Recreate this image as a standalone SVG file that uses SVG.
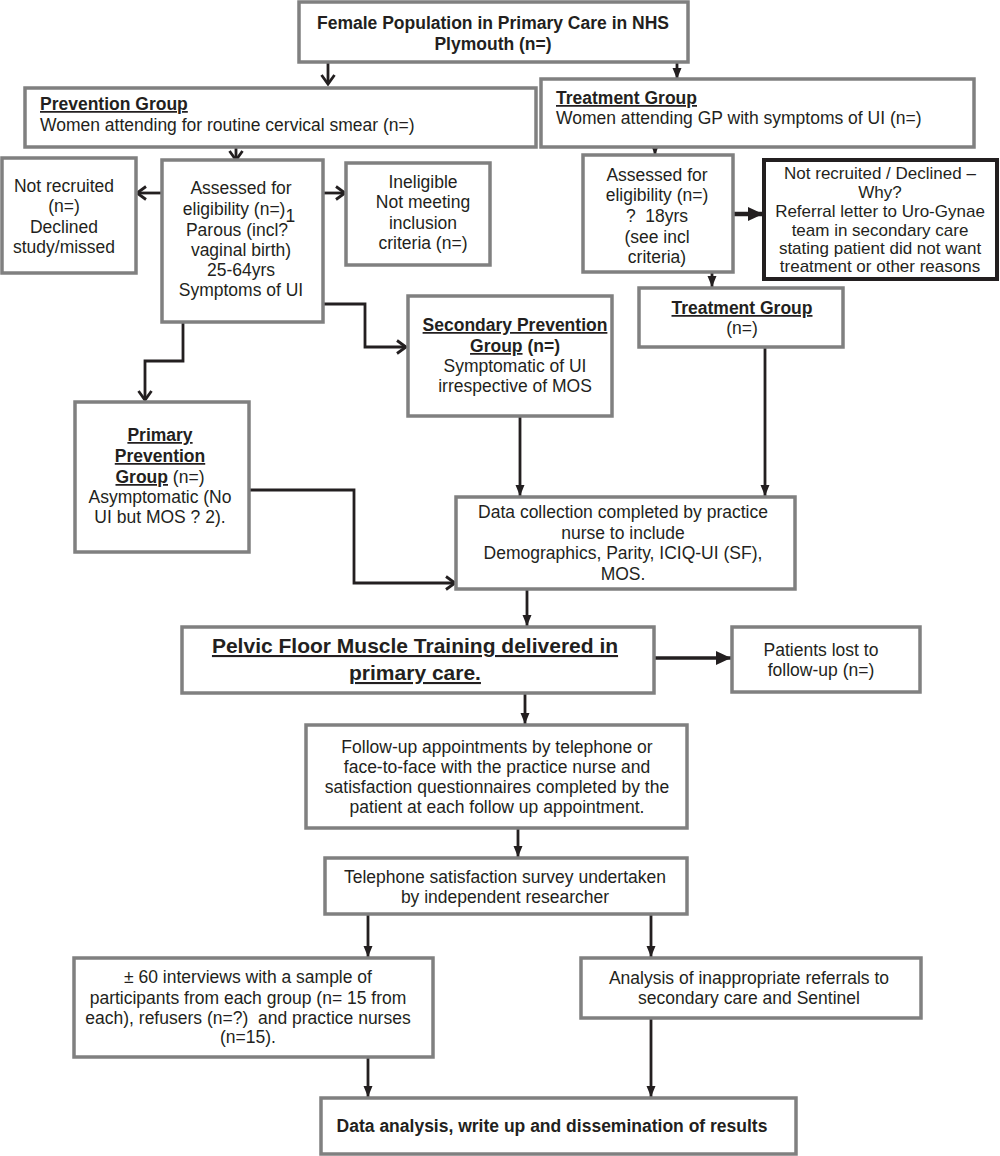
<svg xmlns="http://www.w3.org/2000/svg" width="1000" height="1156" viewBox="0 0 1000 1156">
<style>
text{font-family:"Liberation Sans",Arial,sans-serif;font-size:17.5px;fill:#231f20;text-anchor:middle;white-space:pre}
.l{text-anchor:start}
.b{font-weight:bold}
.u{text-decoration:underline}
.s{font-size:17px}
.box{fill:#fff;stroke:#808080;stroke-width:3.5}
.dark{fill:#fff;stroke:#231f20;stroke-width:4}
.c{fill:none;stroke:#231f20;stroke-width:2.8}
.ch{marker-end:url(#chev)}
.tr{marker-end:url(#tri)}
</style>
<defs>
<marker id="chev" markerWidth="14" markerHeight="16" refX="11" refY="8" orient="auto" markerUnits="userSpaceOnUse"><path d="M2,1.5 L11,8 L2,14.5" fill="none" stroke="#231f20" stroke-width="2.8"/></marker>
<marker id="tri" markerWidth="12" markerHeight="10" refX="11" refY="5" orient="auto" markerUnits="userSpaceOnUse"><path d="M0,0.5 L11,5 L0,9.5 z" fill="#231f20"/></marker>
<marker id="big" markerWidth="16" markerHeight="16" refX="15" refY="8" orient="auto" markerUnits="userSpaceOnUse"><path d="M0,1 L15,8 L0,15 z" fill="#231f20"/></marker>
</defs>
<rect width="1000" height="1156" fill="#fff"/>
<g id="connectors">
<path class="c ch" d="M328,62 V84"/>
<path class="c tr" d="M677,62 V79"/>
<path class="c ch" d="M236,147 V160"/>
<path class="c ch" d="M162,193 H137"/>
<path class="c ch" d="M323,193 H345"/>
<path class="c ch" d="M323,304 H365 V347 H406"/>
<path class="c ch" d="M183,322 V361 H145 V400"/>
<path class="c ch" d="M249,490 H354 V583 H455"/>
<path class="c tr" d="M655,147 V155"/>
<path class="c" d="M733,214 H763" style="stroke-width:4.5;marker-end:url(#big)"/>
<path class="c tr" d="M712,272 V287"/>
<path class="c tr" d="M520,416 V496"/>
<path class="c tr" d="M765,347 V496"/>
<path class="c tr" d="M527,589 V626"/>
<path class="c" d="M654,658 H731" style="stroke-width:3.5;marker-end:url(#big)"/>
<path class="c tr" d="M525,693 V724"/>
<path class="c tr" d="M518,828 V857"/>
<path class="c tr" d="M368,914 V957"/>
<path class="c tr" d="M651,914 V957"/>
<path class="c tr" d="M368,1057 V1097"/>
<path class="c tr" d="M651,1018 V1097"/>
</g>
<g id="top">
<rect class="box" x="299" y="2" width="389" height="60"/>
<text class="b" x="493" y="29">Female Population in Primary Care in NHS</text>
<text class="b" x="493" y="50">Plymouth (n=)</text>
</g>
<g id="prevention">
<rect class="box" x="25" y="88" width="511" height="59"/>
<text class="l b u" x="40" y="110">Prevention Group</text>
<text class="l" x="40" y="131">Women attending for routine cervical smear (n=)</text>
</g>
<g id="treatment">
<rect class="box" x="541" y="79" width="433" height="68"/>
<text class="l b u" x="556" y="104">Treatment Group</text>
<text class="l" x="556" y="124">Women attending GP with symptoms of UI (n=)</text>
</g>
<g id="notrecruited">
<rect class="box" x="2" y="158" width="134" height="115"/>
<text x="64" y="192">Not recruited</text>
<text x="64" y="212">(n=)</text>
<text x="64" y="233">Declined</text>
<text x="64" y="253">study/missed</text>
</g>
<g id="assessed">
<rect class="box" x="162" y="160" width="161" height="162"/>
<text x="241" y="194">Assessed for</text>
<text x="239" y="215">eligibility (n=)<tspan dy="7">1</tspan></text>
<text x="237" y="236">Parous (incl?</text>
<text x="241" y="256">vaginal birth)</text>
<text x="241" y="276">25-64yrs</text>
<text x="241" y="296">Symptoms of UI</text>
</g>
<g id="ineligible">
<rect class="box" x="346" y="163" width="144" height="102"/>
<text x="423" y="188">Ineligible</text>
<text x="423" y="208">Not meeting</text>
<text x="423" y="229">inclusion</text>
<text x="423" y="249">criteria (n=)</text>
</g>
<g id="tassessed">
<rect class="box" x="583" y="155" width="150" height="117"/>
<text x="657" y="181">Assessed for</text>
<text x="657" y="201">eligibility (n=)</text>
<text x="657" y="222">?  18yrs</text>
<text x="657" y="243">(see incl</text>
<text x="657" y="263">criteria)</text>
</g>
<g id="declined">
<rect class="dark" x="764" y="160" width="233" height="119"/>
<text class="s" x="880" y="179">Not recruited / Declined –</text>
<text class="s" x="880" y="198">Why?</text>
<text class="s" x="880" y="217">Referral letter to Uro-Gynae</text>
<text class="s" x="880" y="236">team in secondary care</text>
<text class="s" x="880" y="254">stating patient did not want</text>
<text class="s" x="880" y="272">treatment or other reasons</text>
</g>
<g id="treatmentgroup">
<rect class="box" x="639" y="288" width="204" height="59"/>
<text class="b u" x="742" y="314">Treatment Group</text>
<text x="742" y="334">(n=)</text>
</g>
<g id="secondary">
<rect class="box" x="408" y="296" width="204" height="120"/>
<text class="b u" x="515" y="331">Secondary Prevention</text>
<text class="b" x="515" y="352"><tspan class="u">Group</tspan> (n=)</text>
<text x="515" y="372">Symptomatic of UI</text>
<text x="515" y="392">irrespective of MOS</text>
</g>
<g id="primary">
<rect class="box" x="75" y="402" width="174" height="150"/>
<text class="b u" x="160" y="441">Primary</text>
<text class="b u" x="160" y="462">Prevention</text>
<text x="160" y="483"><tspan class="b u">Group</tspan> (n=)</text>
<text x="160" y="503">Asymptomatic (No</text>
<text x="160" y="523">UI but MOS ? 2).</text>
</g>
<g id="datacollection">
<rect class="box" x="456" y="497" width="339" height="92"/>
<text x="623" y="518">Data collection completed by practice</text>
<text x="623" y="539">nurse to include</text>
<text x="623" y="559">Demographics, Parity, ICIQ-UI (SF),</text>
<text x="623" y="580">MOS.</text>
</g>
<g id="pfmt">
<rect class="box" x="182" y="627" width="472" height="66"/>
<text class="b u" x="415" y="653" style="font-size:21px">Pelvic Floor Muscle Training delivered in</text>
<text class="b u" x="415" y="680" style="font-size:21px">primary care.</text>
</g>
<g id="lost">
<rect class="box" x="732" y="627" width="188" height="65"/>
<text x="821" y="656">Patients lost to</text>
<text x="821" y="676">follow-up (n=)</text>
</g>
<g id="followup">
<rect class="box" x="306" y="725" width="381" height="103"/>
<text x="497" y="753">Follow-up appointments by telephone or</text>
<text x="497" y="773">face-to-face with the practice nurse and</text>
<text x="497" y="793">satisfaction questionnaires completed by the</text>
<text x="497" y="813">patient at each follow up appointment.</text>
</g>
<g id="telephone">
<rect class="box" x="325" y="858" width="362" height="56"/>
<text x="505" y="883">Telephone satisfaction survey undertaken</text>
<text x="505" y="903">by independent researcher</text>
</g>
<g id="interviews">
<rect class="box" x="74" y="958" width="359" height="99"/>
<text x="248" y="983">± 60 interviews with a sample of</text>
<text x="248" y="1004">participants from each group (n= 15 from</text>
<text x="248" y="1024">each), refusers (n=?)  and practice nurses</text>
<text x="248" y="1043">(n=15).</text>
</g>
<g id="analysis">
<rect class="box" x="581" y="958" width="340" height="60"/>
<text x="749" y="984">Analysis of inappropriate referrals to</text>
<text x="749" y="1004">secondary care and Sentinel</text>
</g>
<g id="final">
<rect class="box" x="321" y="1098" width="475" height="56"/>
<text class="b" x="552" y="1132">Data analysis, write up and dissemination of results</text>
</g>
</svg>
